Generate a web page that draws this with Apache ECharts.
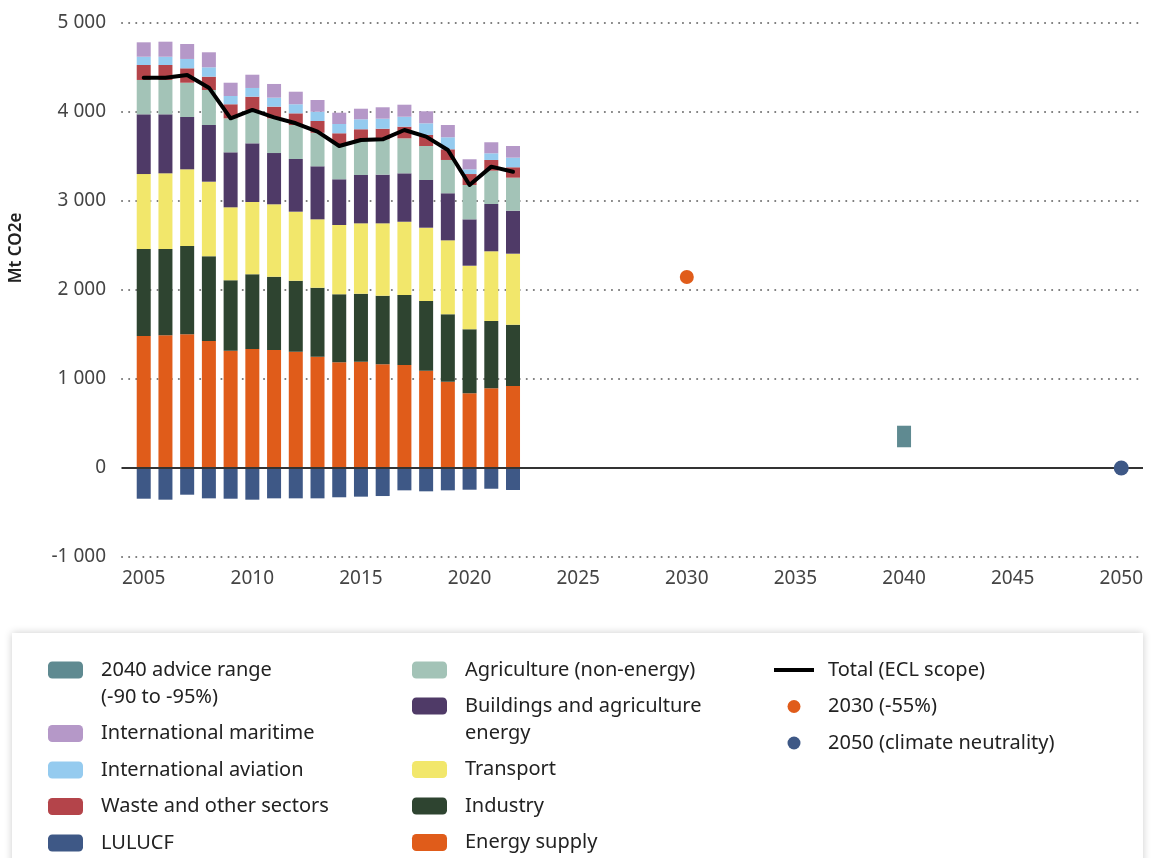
<!DOCTYPE html>
<html>
<head>
<meta charset="utf-8">
<title>EU greenhouse gas emissions</title>
<script src="https://cdn.jsdelivr.net/npm/echarts@6/dist/echarts.min.js"></script>
<style>
  html, body { margin: 0; padding: 0; background: #fff; }
  #chart { width: 1151px; height: 858px; }
</style>
</head>
<body>
<div id="chart"></div>
<script>
// historical years
const years = [2005, 2006, 2007, 2008, 2009, 2010, 2011, 2012, 2013, 2014, 2015, 2016, 2017, 2018, 2019, 2020, 2021, 2022];

// sector emissions, Mt CO2e
const energySupply = [1483, 1491, 1502, 1427, 1318, 1337, 1326, 1307, 1251, 1187, 1194, 1165, 1157, 1093, 970, 839, 896, 921];
const industry     = [978, 970, 992, 952, 791, 839, 823, 797, 775, 765, 764, 771, 787, 783, 757, 719, 756, 689];
const transport    = [842, 850, 862, 838, 820, 813, 814, 776, 768, 778, 791, 813, 823, 824, 831, 715, 783, 798];
const buildings    = [671, 663, 588, 637, 618, 659, 576, 592, 596, 514, 543, 547, 544, 536, 529, 521, 531, 483];
const agriculture  = [386, 386, 385, 393, 382, 375, 390, 382, 377, 396, 393, 397, 393, 382, 374, 386, 375, 371];
const waste        = [168, 168, 162, 150, 158, 149, 131, 131, 132, 121, 121, 119, 131, 124, 120, 123, 120, 117];
const aviation     = [93, 93, 105, 105, 93, 98, 101, 102, 104, 104, 112, 113, 112, 131, 135, 53, 75, 108];
const maritime     = [162, 169, 168, 169, 149, 149, 154, 141, 132, 127, 119, 128, 135, 135, 138, 113, 124, 131];
const lulucf       = [-345, -356, -300, -341, -345, -356, -341, -341, -341, -329, -322, -315, -251, -262, -251, -244, -233, -247];
const totalEcl     = [4385, 4385, 4416, 4273, 3929, 4023, 3940, 3873, 3779, 3618, 3685, 3693, 3798, 3723, 3573, 3180, 3386, 3329];

// targets
const target2030 = [[2030, 2146]];
const range2040 = { year: 2040, low: 233, high: 475 };
const target2050 = [[2050, 0]];

// axes
const xFirstYear = 2004;
const xLastYear = 2051;
const xLabelStep = 5;
const yTicks = { min: -1000, max: 5000, step: 1000 };

const FONT = '"Noto Sans", "Open Sans", sans-serif';
const fmtThousands = v => String(v).replace(/\B(?=(\d{3})+(?!\d))/g, ' ');

const axisYears = [];
for (let y = xFirstYear; y <= xLastYear; y++) axisYears.push(String(y));

// spread a per-year array over the full category axis
const onAxis = arr => axisYears.map(y => {
  const i = years.indexOf(+y);
  return i < 0 ? '-' : arr[i];
});

const NAMES = {
  range: '2040 advice range (-90 to -95%)',
  maritime: 'International maritime',
  aviation: 'International aviation',
  waste: 'Waste and other sectors',
  lulucf: 'LULUCF',
  agri: 'Agriculture (non-energy)',
  bld: 'Buildings and agriculture energy',
  transport: 'Transport',
  industry: 'Industry',
  energy: 'Energy supply',
  total: 'Total (ECL scope)',
  t2030: '2030 (-55%)',
  t2050: '2050 (climate neutrality)'
};
// two-line legend entries; leading blank line keeps the icon on the first line
const legendText = {
  [NAMES.range]: '\n2040 advice range\n(-90 to -95%)',
  [NAMES.bld]: '\nBuildings and agriculture\nenergy'
};

function stackBar(name, data, color) {
  return {
    name: name,
    type: 'bar',
    stack: 'sectors',
    barWidth: 14,
    barGap: '-100%',
    data: onAxis(data),
    itemStyle: { color: color },
    emphasis: { disabled: true }
  };
}

const chart = echarts.init(document.getElementById('chart'));

const legendCommon = {
  orient: 'vertical',
  padding: 0,
  itemWidth: 35,
  itemHeight: 17,
  itemGap: 9.5,
  textStyle: { fontFamily: FONT, fontSize: 20, color: '#222', lineHeight: 27, padding: [0, 0, 0, 13] },
  formatter: name => legendText[name] || name
};

const option = {
  backgroundColor: '#fff',
  animation: false,
  textStyle: { fontFamily: FONT },
  graphic: [{
    type: 'rect',
    left: 12,
    top: 633,
    silent: true,
    shape: { width: 1131, height: 240 },
    style: { fill: '#fff', shadowBlur: 8, shadowColor: 'rgba(0,0,0,0.2)' }
  }],
  grid: { left: 117, right: 8, top: 23, bottom: 301 },
  legend: [
    Object.assign({}, legendCommon, {
      left: 48, top: 629.5,
      data: [NAMES.range, NAMES.maritime, NAMES.aviation, NAMES.waste, NAMES.lulucf]
    }),
    Object.assign({}, legendCommon, {
      left: 412, top: 656.5,
      data: [NAMES.agri]
    }),
    Object.assign({}, legendCommon, {
      left: 412, top: 665.5,
      data: [NAMES.bld, NAMES.transport, NAMES.industry, NAMES.energy]
    }),
    Object.assign({}, legendCommon, {
      left: 774, top: 656.5,
      itemWidth: 40,
      itemHeight: 13,
      textStyle: Object.assign({}, legendCommon.textStyle, { padding: [0, 0, 0, 9] }),
      data: [
        { name: NAMES.total, icon: 'path://M0,0 L40,0 L40,4 L0,4 Z' },
        NAMES.t2030,
        NAMES.t2050
      ]
    })
  ],
  xAxis: {
    type: 'category',
    data: axisYears,
    boundaryGap: false,
    axisLine: { show: false },
    axisTick: { show: false },
    splitLine: { show: false },
    axisLabel: {
      margin: 12,
      fontSize: 19,
      color: '#444',
      interval: (idx, val) => +val % xLabelStep === 0
    }
  },
  yAxis: {
    type: 'value',
    min: yTicks.min,
    max: yTicks.max,
    interval: yTicks.step,
    name: 'Mt CO2e',
    nameLocation: 'middle',
    nameGap: 97,
    nameTextStyle: { fontSize: 17, fontWeight: 600, color: '#222', padding: [0, 0, 0, 84] },
    axisLine: { show: false },
    axisTick: { show: false },
    axisLabel: { margin: 16, fontSize: 19, color: '#444', formatter: fmtThousands },
    splitLine: { lineStyle: { color: '#777', width: 2, type: [0.1, 7], cap: 'round' } }
  },
  series: [
    stackBar(NAMES.energy, energySupply, '#e05c1a'),
    stackBar(NAMES.industry, industry, '#2e4430'),
    stackBar(NAMES.transport, transport, '#f2e76b'),
    stackBar(NAMES.bld, buildings, '#4f3a67'),
    stackBar(NAMES.agri, agriculture, '#a3c3b7'),
    stackBar(NAMES.waste, waste, '#b4444a'),
    stackBar(NAMES.aviation, aviation, '#95cbef'),
    stackBar(NAMES.maritime, maritime, '#b598c8'),
    Object.assign(stackBar(NAMES.lulucf, lulucf, '#3e5886'), {
      markLine: {
        silent: true,
        symbol: 'none',
        label: { show: false },
        lineStyle: { color: '#333', width: 2, type: 'solid' },
        data: [{ yAxis: 0 }]
      }
    }),
    {
      name: 'range base',
      type: 'bar',
      stack: 'range',
      barWidth: 14,
      barGap: '-100%',
      silent: true,
      data: axisYears.map(y => (+y === range2040.year ? range2040.low : '-')),
      itemStyle: { color: 'rgba(0,0,0,0)' }
    },
    {
      name: NAMES.range,
      type: 'bar',
      stack: 'range',
      barWidth: 14,
      barGap: '-100%',
      data: axisYears.map(y => (+y === range2040.year ? range2040.high - range2040.low : '-')),
      itemStyle: { color: '#5f8a91' }
    },
    {
      name: NAMES.total,
      type: 'line',
      data: onAxis(totalEcl),
      symbol: 'none',
      z: 5,
      lineStyle: { color: '#000', width: 4, cap: 'round', join: 'round' },
      itemStyle: { color: '#000' }
    },
    {
      name: NAMES.t2030,
      type: 'scatter',
      symbol: 'circle',
      symbolSize: 14,
      data: target2030.map(d => [String(d[0]), d[1]]),
      itemStyle: { color: '#e05c1a', opacity: 1 }
    },
    {
      name: NAMES.t2050,
      type: 'scatter',
      symbol: 'circle',
      symbolSize: 15,
      z: 5,
      data: target2050.map(d => [String(d[0]), d[1]]),
      itemStyle: { color: '#3e5886', opacity: 1 }
    }
  ]
};

chart.setOption(option);
</script>
</body>
</html>
